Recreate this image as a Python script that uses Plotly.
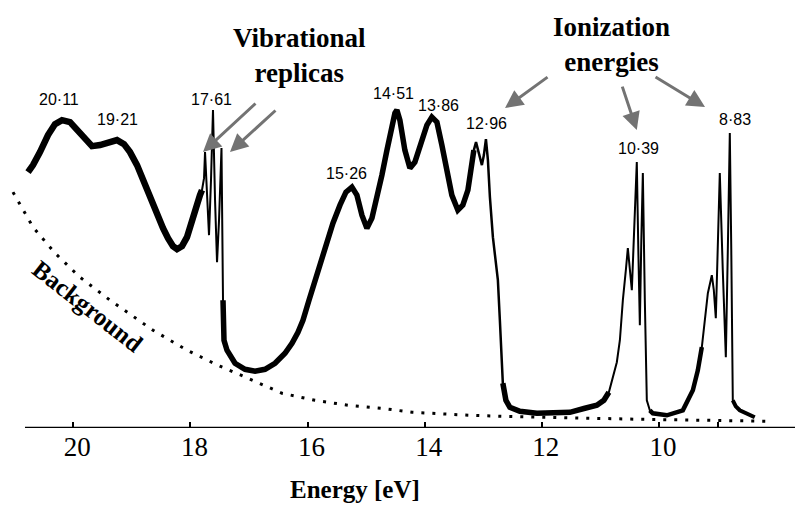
import numpy as np
import plotly.graph_objects as go

# Photoelectron spectrum: binding energy (eV) vs intensity (arb. units)
energy = [20.773, 20.688, 20.569, 20.432, 20.312, 20.193, 20.056, 19.920, 19.783, 19.681,
          19.544, 19.373, 19.254, 19.134, 19.032, 18.912, 18.810, 18.690, 18.571, 18.468,
          18.383, 18.298, 18.229, 18.144, 18.059, 17.956, 17.888, 17.837, 17.803, 17.768,
          17.751, 17.717, 17.683, 17.649, 17.615, 17.580, 17.546, 17.512, 17.470, 17.444,
          17.427, 17.376, 17.307, 17.239, 17.068, 16.897, 16.727, 16.556, 16.385, 16.266,
          16.164, 16.079, 15.976, 15.874, 15.771, 15.652, 15.567, 15.447, 15.345, 15.243,
          15.158, 15.072, 14.987, 14.901, 14.816, 14.731, 14.645, 14.577, 14.509, 14.475,
          14.424, 14.339, 14.253, 14.168, 14.065, 13.963, 13.878, 13.792, 13.707, 13.622,
          13.537, 13.434, 13.349, 13.263, 13.212, 13.161, 13.124, 13.075, 13.024, 12.990,
          12.955, 12.921, 12.887, 12.836, 12.785, 12.751, 12.717, 12.683, 12.666, 12.614,
          12.546, 12.375, 12.085, 11.778, 11.522, 11.266, 11.061, 10.941, 10.856, 10.788,
          10.720, 10.668, 10.617, 10.566, 10.532, 10.464, 10.413, 10.379, 10.353, 10.327,
          10.302, 10.276, 10.242, 10.208, 10.157, 10.105, 9.866, 9.593, 9.422, 9.337,
          9.269, 9.217, 9.166, 9.098, 9.064, 9.030, 8.996, 8.962, 8.911, 8.859,
          8.825, 8.791, 8.766, 8.740, 8.689, 8.621, 8.484, 8.365]
intensity = [59.78, 61.42, 64.46, 68.44, 71.01, 71.94, 71.48, 69.60, 67.27, 65.86,
             66.10, 66.80, 67.27, 66.33, 64.46, 61.42, 57.91, 54.17, 50.43, 46.69,
             44.35, 42.48, 41.78, 42.48, 44.59, 49.73, 53.24, 54.41, 55.58, 58.38,
             64.46, 53.24, 45.06, 57.91, 74.28, 53.24, 38.74, 48.56, 65.40, 29.86,
             20.50, 18.17, 16.30, 15.13, 13.72, 13.26, 13.72, 15.13, 17.47, 19.80,
             22.38, 25.18, 29.86, 34.53, 39.21, 43.89, 47.86, 52.07, 55.11, 56.28,
             54.41, 49.73, 46.69, 49.03, 53.71, 59.08, 64.93, 69.60, 73.58, 74.28,
             71.94, 64.93, 60.72, 62.12, 66.10, 70.77, 72.64, 71.48, 66.10, 59.55,
             54.41, 50.90, 52.07, 55.58, 60.25, 64.93, 66.80, 64.46, 61.42, 63.76,
             67.50, 62.59, 53.94, 44.59, 38.04, 34.53, 25.18, 14.66, 10.45, 6.48,
             4.84, 3.90, 3.44, 3.44, 3.67, 4.61, 5.31, 6.48, 8.35, 11.62,
             15.36, 20.50, 29.86, 36.87, 42.02, 32.20, 48.56, 62.12, 41.55, 24.01,
             43.89, 59.55, 29.86, 6.48, 4.14, 3.44, 2.97, 4.14, 8.81, 13.49,
             18.87, 25.18, 31.49, 35.70, 32.20, 25.65, 41.55, 59.55, 36.87, 16.53,
             41.55, 68.90, 41.55, 6.48, 5.07, 4.14, 3.20, 2.50]
assert len(energy) == len(intensity)

# Background curve
bg_energy = [21.030, 20.688, 20.312, 19.886, 19.373, 18.639, 18.059, 17.495, 17.017,
             16.437, 15.874, 15.310, 14.730, 14.217, 13.227, 12.715, 10.324, 8.105]
bg_intensity = [55.11, 46.93, 40.85, 35.23, 29.86, 22.84, 18.17, 14.43, 11.62,
                8.11, 6.48, 5.31, 4.61, 3.67, 2.97, 2.74, 2.03, 1.57]

# Peak labels
peak_labels = ["20·11", "19·21", "17·61", "15·26", "14·51", "13·86", "12·96", "10·39", "8·83"]
peak_label_x = [20.236, 19.254, 17.640, 15.344, 14.541, 13.773, 12.945, 10.350, 8.694]
peak_label_y = [76.85, 72.18, 76.85, 59.55, 78.26, 75.45, 71.24, 65.40, 72.18]

tick_vals = [20, 18, 16, 14, 12, 10, 9]
tick_text = ["20", "18", "16", "14", "12", "10", ""]

# Arrow targets (energy, intensity) with tail offsets in px
vib_arrow_x = [17.786, 17.325]
vib_arrow_y = [64.46, 64.46]
vib_arrow_off = [(54, -50), (47, -43)]
ion_arrow_x = [12.629, 10.379, 9.214]
ion_arrow_y = [74.75, 69.60, 74.98]
ion_arrow_off = [(44, -32), (-15, -45), (-51, -31)]

# line-width segments (energy bounds, style)
seg_bounds = [20.8, 17.837, 17.427, 13.212, 12.614, 10.941, 10.105, 9.337, 8.689, 8.3]
seg_widths = [6.5, 2, 5.5, 2.5, 5.5, 2, 4.5, 2, 4]

E = np.array(energy)
I = np.array(intensity)

fig = go.Figure()

fig.add_trace(go.Scatter(x=bg_energy, y=bg_intensity, mode="lines",
                         line=dict(color="black", width=3, dash="3px,8px"),
                         hoverinfo="skip", showlegend=False))

n = len(E)
for k, w in enumerate(seg_widths):
    hi, lo = seg_bounds[k], seg_bounds[k + 1]
    idx = np.where((E <= hi + 1e-9) & (E >= lo - 1e-9))[0]
    if len(idx) == 0:
        continue
    i0, i1 = idx[0], idx[-1]
    i0 = max(i0 - 1, 0)
    i1 = min(i1 + 1, n - 1)
    fig.add_trace(go.Scatter(x=E[i0:i1 + 1], y=I[i0:i1 + 1], mode="lines",
                             line=dict(color="black", width=w),
                             hoverinfo="skip", showlegend=False))

serif = "Liberation Serif, Times New Roman, serif"
sans = "Liberation Sans Narrow, Liberation Sans, Arial, sans-serif"

annotations = []
for t, x, y in zip(peak_labels, peak_label_x, peak_label_y):
    annotations.append(dict(x=x, y=y, xref="x", yref="y", text=t, showarrow=False,
                            font=dict(family=sans, size=16, color="black"),
                            xanchor="center", yanchor="middle"))

for x, y, (ax, ay) in list(zip(vib_arrow_x, vib_arrow_y, vib_arrow_off)) + \
        list(zip(ion_arrow_x, ion_arrow_y, ion_arrow_off)):
    annotations.append(dict(x=x, y=y, xref="x", yref="y", ax=ax, ay=ay, text="",
                            showarrow=True, arrowhead=2, arrowsize=1.2, arrowwidth=3,
                            arrowcolor="#737373", standoff=0))

annotations.append(dict(x=16.146, y=87.1, xref="x", yref="y",
                        text="<b>Vibrational<br>replicas</b>", showarrow=False,
                        font=dict(family=serif, size=27, color="black"),
                        xanchor="center", yanchor="middle"))
annotations.append(dict(x=10.819, y=89.5, xref="x", yref="y",
                        text="<b>Ionization<br>energies</b>", showarrow=False,
                        font=dict(family=serif, size=27, color="black"),
                        xanchor="center", yanchor="middle"))
annotations.append(dict(x=19.749, y=28.45, xref="x", yref="y",
                        text="<b>Background</b>", showarrow=False, textangle=38,
                        font=dict(family=serif, size=25, color="black"),
                        xanchor="center", yanchor="middle"))
annotations.append(dict(x=15.19, y=-0.181, xref="x", yref="paper",
                        text="<b>Energy [eV]</b>", showarrow=False,
                        font=dict(family=serif, size=25, color="black"),
                        xanchor="center", yanchor="bottom"))

fig.update_layout(
    width=795, height=506,
    margin=dict(l=8, r=0, t=0, b=78),
    paper_bgcolor="white", plot_bgcolor="white",
    xaxis=dict(range=[21.115, 7.678], tickvals=tick_vals, ticktext=tick_text,
               ticks="inside", ticklen=6, tickwidth=1.5, tickcolor="black",
               ticklabelshift=-4,
               showgrid=False, zeroline=False, showline=False,
               tickfont=dict(family=serif, size=27, color="black")),
    yaxis=dict(range=[0, 100], visible=False, showgrid=False, zeroline=False),
    annotations=annotations,
    shapes=[dict(type="line", xref="x", yref="y", x0=20.825, x1=7.678, y0=0, y1=0,
                 line=dict(color="black", width=2.5))],
)

fig.write_html("out.html", config={"displayModeBar": False},
               post_script="document.body.style.margin='0';document.body.style.padding='0';")
